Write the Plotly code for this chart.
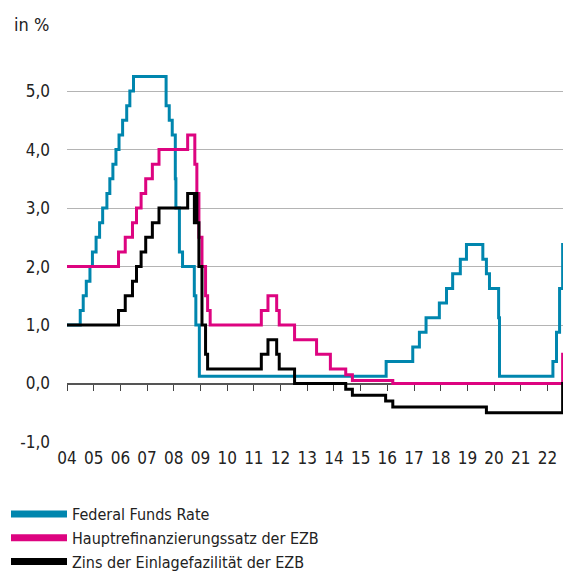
import plotly.graph_objects as go

fed_dates = ["2004-01-01","2004-06-30","2004-08-10","2004-09-21","2004-11-10","2004-12-14",
             "2005-02-02","2005-03-22","2005-05-03","2005-06-30","2005-08-09","2005-09-20",
             "2005-11-01","2005-12-13","2006-01-31","2006-03-28","2006-05-10","2006-06-29",
             "2007-09-18","2007-10-31","2007-12-11","2008-01-22","2008-01-30","2008-03-18",
             "2008-04-30","2008-10-08","2008-10-29","2008-12-16","2015-12-16","2016-12-14",
             "2017-03-15","2017-06-14","2017-12-13","2018-03-21","2018-06-13","2018-09-26",
             "2018-12-19","2019-07-31","2019-09-18","2019-10-30","2020-03-03","2020-03-15",
             "2022-03-16","2022-05-04","2022-06-15","2022-07-27","2022-08-10"]
fed_vals = [1.00,1.25,1.50,1.75,2.00,2.25,2.50,2.75,3.00,3.25,3.50,3.75,4.00,4.25,4.50,4.75,
            5.00,5.25,4.75,4.50,4.25,3.50,3.00,2.25,2.00,1.50,1.00,0.125,0.375,0.625,0.875,
            1.125,1.375,1.625,1.875,2.125,2.375,2.125,1.875,1.625,1.125,0.125,0.375,0.875,
            1.625,2.375,2.375]

mro_dates = ["2004-01-01","2005-12-06","2006-03-08","2006-06-15","2006-08-09","2006-10-11",
             "2006-12-13","2007-03-14","2007-06-13","2008-07-09","2008-10-15","2008-11-12",
             "2008-12-10","2009-01-21","2009-03-11","2009-04-08","2009-05-13","2011-04-13",
             "2011-07-13","2011-11-09","2011-12-14","2012-07-11","2013-05-08","2013-11-13",
             "2014-06-11","2014-09-10","2016-03-16","2022-07-27","2022-08-10"]
mro_vals = [2.00,2.25,2.50,2.75,3.00,3.25,3.50,3.75,4.00,4.25,3.75,3.25,2.50,2.00,1.50,1.25,
            1.00,1.25,1.50,1.25,1.00,0.75,0.50,0.25,0.15,0.05,0.00,0.50,0.50]

dep_dates = ["2004-01-01","2005-12-06","2006-03-08","2006-06-15","2006-08-09","2006-10-11",
             "2006-12-13","2007-03-14","2007-06-13","2008-07-09","2008-10-09","2008-10-15",
             "2008-11-12","2008-12-10","2009-01-21","2009-03-11","2009-04-08","2011-04-13",
             "2011-07-13","2011-11-09","2011-12-14","2012-07-11","2014-06-11","2014-09-10",
             "2015-12-09","2016-03-16","2019-09-18","2022-07-27","2022-08-10"]
dep_vals = [1.00,1.25,1.50,1.75,2.00,2.25,2.50,2.75,3.00,3.25,2.75,3.25,2.75,2.00,1.00,0.50,
            0.25,0.50,0.75,0.50,0.25,0.00,-0.10,-0.20,-0.30,-0.40,-0.50,0.00,0.00]

series_names = ["Federal Funds Rate", "Hauptrefinanzierungssatz der EZB",
                "Zins der Einlagefazilität der EZB"]
colors = ["#0086AE", "#DD0480", "#000000"]

years = list(range(2004, 2023))
year_ticks = [f"{y}-01-01" for y in years]
year_labels = [f"{y % 100:02d}" for y in years]
y_ticks = [-1, 0, 1, 2, 3, 4, 5]
y_labels = ["-1,0", "0,0", "1,0", "2,0", "3,0", "4,0", "5,0"]

x_range = ["2004-01-01", "2022-08-01"]
y_range = [-1, 5.6]

FONT = "DejaVu Sans Condensed, Liberation Sans Narrow, sans-serif"

W, H = 563, 572
ML, MR, MT, MB = 67, 0, 56, 130
PW, PH = W - ML - MR, H - MT - MB

fig = go.Figure()
for d, v, n, c in zip([fed_dates, mro_dates, dep_dates], [fed_vals, mro_vals, dep_vals],
                      series_names, colors):
    fig.add_trace(go.Scatter(x=d, y=v, name=n, mode="lines", line_shape="hv",
                             line=dict(color=c, width=3), showlegend=False))
    fig.add_trace(go.Scatter(x=[None], y=[None], name=n, mode="lines",
                             line=dict(color=c, width=7), showlegend=True))

# invisible trace to carry the tick-mark axis at y = 0
fig.add_trace(go.Scatter(x=x_range, y=[0, 0], xaxis="x2", mode="lines",
                         line=dict(width=0), showlegend=False, hoverinfo="skip"))

zero_pos = (0 - y_range[0]) / (y_range[1] - y_range[0])

fig.update_layout(
    width=W, height=H,
    margin=dict(l=ML, r=MR, t=MT, b=MB, autoexpand=False),
    paper_bgcolor="white", plot_bgcolor="white",
    font=dict(family=FONT, size=17, color="#222222"),
    separators=",.",
    xaxis=dict(type="date", range=x_range, tickvals=year_ticks, ticktext=year_labels,
               showgrid=False, zeroline=False, showline=False, ticks="",
               ticklabelstandoff=4, tickangle=0, tickfont=dict(size=17)),
    xaxis2=dict(type="date", overlaying="x", matches="x", anchor="free",
                position=zero_pos, side="bottom", tickvals=year_ticks,
                showticklabels=False, ticks="outside", ticklen=6, tickwidth=1,
                tickcolor="#444444", showgrid=False, zeroline=False, showline=False),
    yaxis=dict(range=y_range, tickvals=y_ticks, ticktext=y_labels, showgrid=True,
               gridcolor="#B4B4B4", gridwidth=1, zeroline=True, zerolinecolor="#555555",
               zerolinewidth=1.5, ticks="", ticklabelstandoff=16, tickfont=dict(size=17)),
    legend=dict(xref="container", yref="container", x=6 / W, y=1 - 497 / H,
                xanchor="left", yanchor="top", orientation="v",
                font=dict(size=16), tracegroupgap=0, itemwidth=56,
                bgcolor="rgba(0,0,0,0)"),
    annotations=[dict(text="in %", xref="paper", yref="paper", x=(12 - ML) / PW,
                      y=(H - MB - 25) / PH, xanchor="left", yanchor="middle",
                      showarrow=False, font=dict(size=18))],
)

fig.write_html("out.html", config={"displayModeBar": False},
               post_script="document.body.style.margin='0';document.body.style.overflow='hidden';")
